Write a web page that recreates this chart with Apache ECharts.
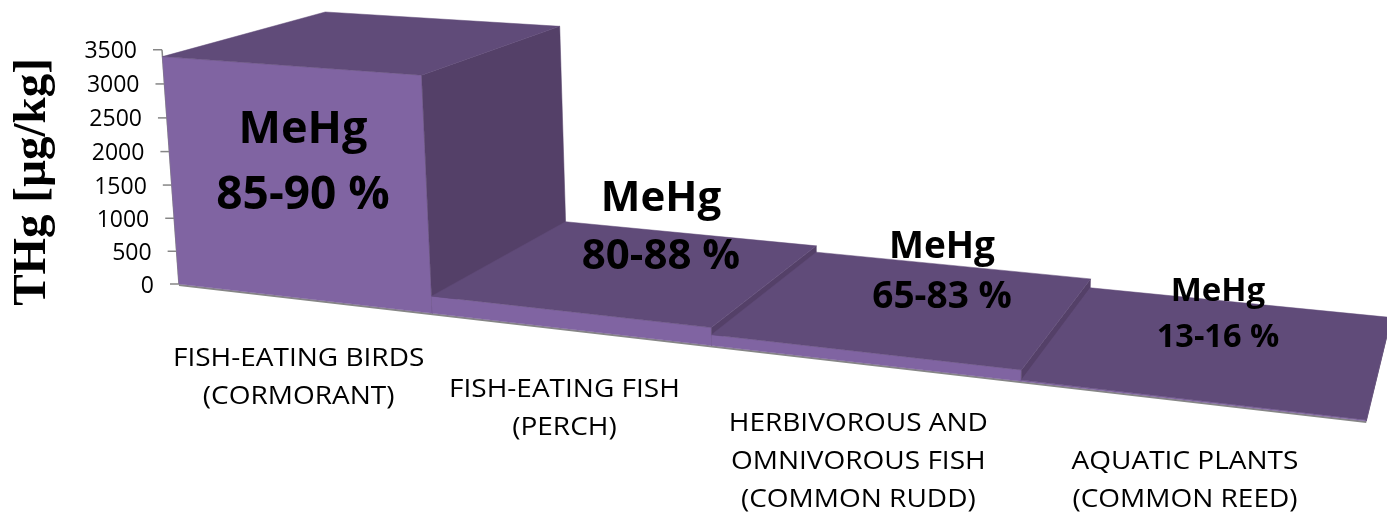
<!DOCTYPE html>
<html>
<head>
<meta charset="utf-8">
<style>html,body{margin:0;padding:0;background:#fff}#main{width:1387px;height:513px}</style>
<script src="https://cdn.jsdelivr.net/npm/echarts@6/dist/echarts.min.js"></script>
</head>
<body>
<div id="main"></div>
<script>
'use strict';

let categories = [
	'FISH-EATING BIRDS\n(CORMORANT)',
	'FISH-EATING FISH\n(PERCH)',
	'HERBIVOROUS AND\nOMNIVOROUS FISH\n(COMMON RUDD)',
	'AQUATIC PLANTS\n(COMMON REED)'
];
let thg = [3400, 250, 150, 15];
let mehgShare = ['85-90 %', '80-88 %', '65-83 %', '13-16 %'];
let yTicks = [0, 500, 1000, 1500, 2000, 2500, 3000, 3500];
let yMax = 3500;

// front plane of the chart, the projection below tilts it
let gridBox = { left: 179, top: 50, width: 1187, height: 234 };

// vanishing points of the three chart directions, w = strength
let vpX = { x: -5000, y: -314, w: -0.1865 };
let vpY = { x: 842, y: 9420, w: -0.025 };
let vpZ = { x: 1547, y: -323, w: 0.13 };

function project(a, b, d) {
	let wa = a * vpX.w, wb = b * vpY.w, wd = d * vpZ.w;
	let n = 1 + wa + wb + wd;
	return [
		(gridBox.left + wa * vpX.x + wb * vpY.x + wd * vpZ.x) / n,
		(gridBox.top + gridBox.height + wa * vpX.y + wb * vpY.y + wd * vpZ.y) / n
	];
}

// pixel from the axes -> fractions of the front plane -> tilted pixel
function place(api, idx, val, side, d) {
	let p = api.coord([idx, val]);
	let band = api.size([1, 0])[0];
	let a = (p[0] + side * band / 2 - gridBox.left) / gridBox.width;
	let b = (gridBox.top + gridBox.height - p[1]) / gridBox.height;
	return project(a, b, d);
}

function poly(points, fill) {
	return { type: 'polygon', shape: { points: points }, style: { fill: fill, stroke: fill, lineWidth: 0.5 } };
}

function renderBar(params, api) {
	let i = api.value(0), v = api.value(1);
	let fl0 = place(api, i, 0, -1, 0), fr0 = place(api, i, 0, 1, 0), br0 = place(api, i, 0, 1, 1);
	let fl = place(api, i, v, -1, 0), fr = place(api, i, v, 1, 0);
	let bl = place(api, i, v, -1, 1), br = place(api, i, v, 1, 1);
	return {
		type: 'group',
		children: [
			poly([fl0, fr0, fr, fl], '#8064a2'),
			poly([fr0, br0, br, fr], '#544068'),
			poly([fl, fr, br, bl], '#604b79')
		]
	};
}

function renderAxes(params, api) {
	let o = project(0, 0, 0);
	return {
		type: 'group',
		children: [
			{ type: 'line', shape: { x1: o[0], y1: o[1] + 1, x2: project(1, 0, 0)[0], y2: project(1, 0, 0)[1] + 1 }, style: { stroke: '#868686', lineWidth: 2 } },
			{ type: 'line', shape: { x1: o[0], y1: o[1], x2: project(0, 1, 0)[0], y2: project(0, 1, 0)[1] }, style: { stroke: '#868686', lineWidth: 1.5 } }
		]
	};
}

function renderTick(params, api) {
	let v = api.value(0);
	let p = place(api, 0, v, -1, 0);
	return {
		type: 'group',
		children: [
			{ type: 'line', shape: { x1: p[0] - 9, y1: p[1], x2: p[0], y2: p[1] }, style: { stroke: '#868686', lineWidth: 1.5 } },
			{
				type: 'text',
				style: {
					x: p[0] - 25, y: p[1] + 2, text: String(v), fill: '#000',
					font: '23px "Open Sans"', align: 'right', verticalAlign: 'middle'
				}
			}
		]
	};
}

function renderCategory(params, api) {
	let i = api.value(0);
	let p = place(api, i, 0, 0, 0);
	return {
		type: 'text',
		x: p[0] - 4, y: p[1] + 42, scaleX: 1.12,
		style: {
			x: 0, y: 0, text: categories[i], fill: '#000',
			font: '25px "Open Sans"', lineHeight: 38, align: 'center', verticalAlign: 'top'
		}
	};
}

// hand placed notes over the bars
let noteSpots = [
	{ x: 303, y1: 130, y2: 196, s1: 45, s2: 46 },
	{ x: 661, y1: 199, y2: 257, s1: 42, s2: 42 },
	{ x: 942, y1: 247, y2: 297, s1: 37, s2: 37 },
	{ x: 1218, y1: 292, y2: 338, s1: 33, s2: 32.5 }
];
let notes = [];
mehgShare.forEach((txt, i) => {
	let n = noteSpots[i];
	notes.push({ type: 'text', z: 100, style: { x: n.x, y: n.y1, text: 'MeHg', fill: '#000', font: 'bold ' + n.s1 + 'px "Open Sans"', align: 'center', verticalAlign: 'middle' } });
	notes.push({ type: 'text', z: 100, style: { x: n.x, y: n.y2, text: txt, fill: '#000', font: 'bold ' + n.s2 + 'px "Open Sans"', align: 'center', verticalAlign: 'middle' } });
});
notes.push({
	type: 'text', z: 100, x: 33, y: 182, rotation: Math.PI / 2,
	style: { text: 'THg [µg/kg]', fill: '#000', font: 'bold 47px "Liberation Serif"', align: 'center', verticalAlign: 'middle' }
});

let myChart = echarts.init(document.getElementById('main'));

let option = {
	animation: false,
	grid: gridBox,
	xAxis: { type: 'category', data: categories, show: false },
	yAxis: { type: 'value', min: 0, max: yMax, interval: 500, show: false },
	graphic: notes,
	series: [{
		type: 'custom', clip: false, z: 1,
		data: [[0]],
		renderItem: renderAxes
	}, {
		type: 'custom', clip: false, z: 2,
		data: yTicks.map(v => [v]),
		renderItem: renderTick
	}, {
		type: 'custom', clip: false, z: 3,
		data: thg.map((v, i) => [i, v]),
		encode: { x: 0, y: 1 },
		renderItem: renderBar
	}, {
		type: 'custom', clip: false, z: 4,
		data: categories.map((c, i) => [i]),
		renderItem: renderCategory
	}]
};
myChart.setOption(option);
</script>
</body>
</html>
